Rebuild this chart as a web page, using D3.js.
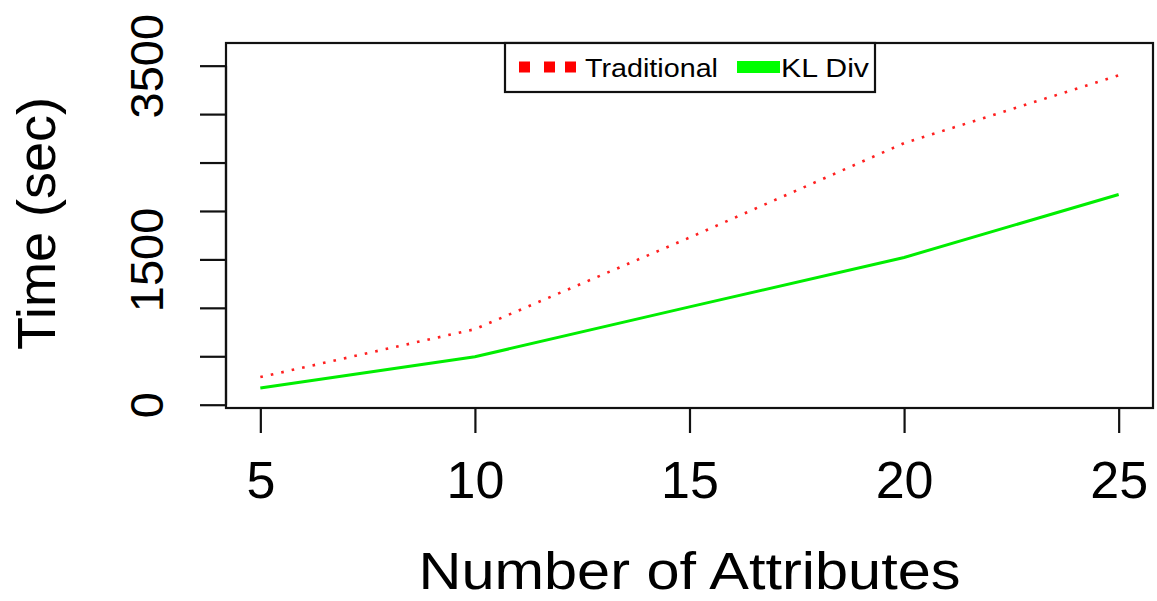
<!DOCTYPE html>
<html>
<head>
<meta charset="utf-8">
<script src="https://cdn.jsdelivr.net/npm/d3@7"></script>
<style>
  html, body { margin: 0; padding: 0; background: #fff; }
  svg { display: block; font-family: "Liberation Sans", Arial, sans-serif; }
</style>
</head>
<body>
<svg id="chart" width="1157" height="601"></svg>
<script>
// ---- data ----
const attributes = [5, 10, 15, 20, 25];
const traditional = [285, 780, 1725, 2700, 3400];
const klDiv = [172, 495, 1010, 1520, 2170];
const xTicks = [5, 10, 15, 20, 25];
const yTicks = [0, 500, 1000, 1500, 2000, 2500, 3000, 3500];
const yTickLabels = ["0", "", "", "1500", "", "", "", "3500"];
const seriesNames = ["Traditional", "KL Div"];
const xTitle = "Number of Attributes";
const yTitle = "Time (sec)";

// ---- layout ----
const svg = d3.select("#chart");
const box = { left: 226, right: 1153, top: 43, bottom: 408 };

const x = d3.scaleLinear().domain([4.2, 25.8]).range([box.left, box.right]);
const y = d3.scaleLinear().domain([-34, 3734]).range([box.bottom, box.top]);

// lines
const line = d3.line().x((d, i) => x(attributes[i])).y(d => y(d));

svg.append("path")
  .datum(traditional)
  .attr("d", line)
  .attr("fill", "none")
  .attr("stroke", "#ff2020")
  .attr("stroke-width", 2.6)
  .attr("stroke-dasharray", "2.6 8.1");

svg.append("path")
  .datum(klDiv)
  .attr("d", line)
  .attr("fill", "none")
  .attr("stroke", "#00ee00")
  .attr("stroke-width", 3);

// frame
svg.append("rect")
  .attr("x", box.left).attr("y", box.top)
  .attr("width", box.right - box.left).attr("height", box.bottom - box.top)
  .attr("fill", "none").attr("stroke", "#111").attr("stroke-width", 2.2);

// x axis
const xAxis = d3.axisBottom(x).tickValues(xTicks).tickSize(25).tickPadding(0).tickFormat(d3.format("d"));
const gx = svg.append("g").attr("transform", `translate(0,${box.bottom})`).call(xAxis);
gx.select(".domain").attr("d", `M${x(xTicks[0])},0H${x(xTicks[xTicks.length - 1])}`)
  .attr("stroke", "#111").attr("stroke-width", 2.2);
gx.selectAll(".tick line").attr("stroke", "#111").attr("stroke-width", 2.2);
gx.selectAll(".tick text")
  .attr("y", null).attr("dy", null)
  .attr("transform", "translate(0,90)")
  .attr("fill", "#000")
  .style("font-size", "52px")
  .style("font-family", "'Liberation Sans', Arial, sans-serif");

// y axis
const yAxis = d3.axisLeft(y).tickValues(yTicks).tickSize(26).tickPadding(0)
  .tickFormat((d, i) => yTickLabels[i]);
const gy = svg.append("g").attr("transform", `translate(${box.left},0)`).call(yAxis);
gy.select(".domain").attr("d", `M0,${y(yTicks[0])}V${y(yTicks[yTicks.length - 1])}`)
  .attr("stroke", "#111").attr("stroke-width", 2.2);
gy.selectAll(".tick line").attr("stroke", "#111").attr("stroke-width", 2.2);
gy.selectAll(".tick text")
  .attr("x", null).attr("dy", null)
  .attr("text-anchor", "middle")
  .attr("transform", "translate(-63,0) rotate(-90)")
  .attr("fill", "#000")
  .style("font-size", "47px")
  .style("font-family", "'Liberation Sans', Arial, sans-serif");

// titles
svg.append("text")
  .attr("x", (box.left + box.right) / 2).attr("y", 589)
  .attr("text-anchor", "middle")
  .attr("textLength", 542).attr("lengthAdjust", "spacingAndGlyphs")
  .style("font-size", "51px")
  .text(xTitle);

svg.append("text")
  .attr("transform", `translate(55,${(box.top + box.bottom) / 2 - 2}) rotate(-90)`)
  .attr("text-anchor", "middle")
  .style("font-size", "54px")
  .text(yTitle);

// legend
const lg = svg.append("g");
lg.append("rect")
  .attr("x", 505).attr("y", box.top).attr("width", 370).attr("height", 49)
  .attr("fill", "#fff").attr("stroke", "#111").attr("stroke-width", 2.2);
lg.append("path")
  .attr("d", "M519,67H576")
  .attr("stroke", "#ff0000").attr("stroke-width", 11)
  .attr("stroke-dasharray", "11 14 11 10");
lg.append("text")
  .attr("x", 585).attr("y", 77)
  .attr("textLength", 133).attr("lengthAdjust", "spacingAndGlyphs")
  .style("font-size", "26px")
  .text(seriesNames[0]);
lg.append("path")
  .attr("d", "M737,67H780")
  .attr("stroke", "#00ff00").attr("stroke-width", 12);
lg.append("text")
  .attr("x", 781).attr("y", 77)
  .attr("textLength", 88).attr("lengthAdjust", "spacingAndGlyphs")
  .style("font-size", "26px")
  .text(seriesNames[1]);
</script>
</body>
</html>
